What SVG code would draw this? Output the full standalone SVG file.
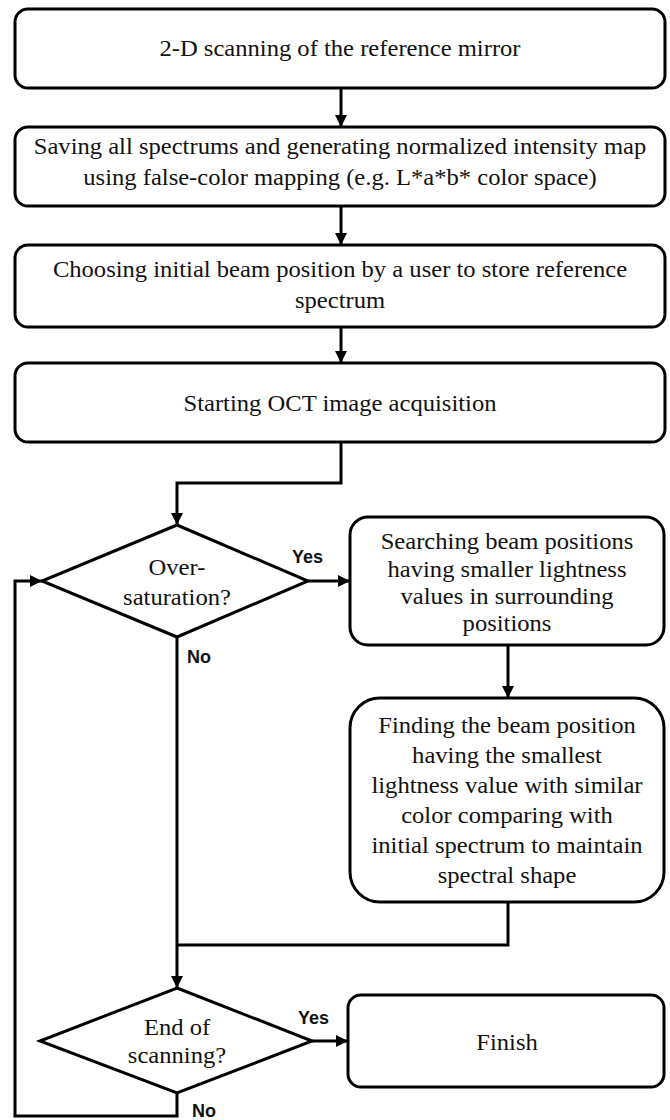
<svg xmlns="http://www.w3.org/2000/svg" width="670" height="1120" viewBox="0 0 670 1120">
<defs>
<marker id="ah" viewBox="0 0 12 12" refX="12" refY="6" markerWidth="12" markerHeight="12" orient="auto" markerUnits="userSpaceOnUse">
<path d="M0,0 L12,6 L0,12 z" fill="#000"/>
</marker>
<style>
.box{fill:#fff;stroke:#000;stroke-width:3}
.t{font-size:23px;fill:#111;text-anchor:middle}
.lbl{font-size:18px;font-weight:bold;fill:#111}
.c{fill:none;stroke:#000;stroke-width:3}
</style>
</defs>
<rect width="670" height="1120" fill="#fff"/>
<g id="connectors" font-family="Liberation Sans, Arial, sans-serif">
<path class="c" d="M341,88 V127" marker-end="url(#ah)"/>
<path class="c" d="M341,206 V245" marker-end="url(#ah)"/>
<path class="c" d="M341,327 V363" marker-end="url(#ah)"/>
<path class="c" d="M341,442 V483 H177 V525" marker-end="url(#ah)"/>
<path class="c" d="M308,581 H350" marker-end="url(#ah)"/>
<path class="c" d="M508,645 V698" marker-end="url(#ah)"/>
<path class="c" d="M508,902 V945 H177"/>
<path class="c" d="M177,637 V988" marker-end="url(#ah)"/>
<path class="c" d="M312,1041 H348" marker-end="url(#ah)"/>
<path class="c" d="M177,1093 V1116 H15 V581 H42" marker-end="url(#ah)"/>
<text class="lbl" x="292" y="563">Yes</text>
<text class="lbl" x="187" y="663">No</text>
<text class="lbl" x="298" y="1024">Yes</text>
<text class="lbl" x="192" y="1117">No</text>
</g>
<g font-family="Liberation Serif, Times New Roman, serif">
<g id="n1">
<rect class="box" x="15" y="9" width="650" height="79" rx="13"/>
<g transform="translate(340 0) scale(1.07 1)">
<text class="t" x="0" y="56">2-D scanning of the reference mirror</text>
</g>
</g>
<g id="n2">
<rect class="box" x="15" y="127" width="650" height="79" rx="13"/>
<g transform="translate(340 0) scale(1.07 1)">
<text class="t" x="0" y="154">Saving all spectrums and generating normalized intensity map</text>
<text class="t" x="0" y="185">using false-color mapping (e.g. L*a*b* color space)</text>
</g>
</g>
<g id="n3">
<rect class="box" x="15" y="245" width="650" height="82" rx="13"/>
<g transform="translate(340 0) scale(1.07 1)">
<text class="t" x="0" y="277">Choosing initial beam position by a user to store reference</text>
<text class="t" x="0" y="308">spectrum</text>
</g>
</g>
<g id="n4">
<rect class="box" x="15" y="363" width="650" height="79" rx="13"/>
<g transform="translate(340 0) scale(1.07 1)">
<text class="t" x="0" y="411">Starting OCT image acquisition</text>
</g>
</g>
<g id="d1">
<polygon class="box" points="177,525 308,581 177,637 42,581"/>
<g transform="translate(177 0) scale(1.07 1)">
<text class="t" x="0" y="575">Over-</text>
<text class="t" x="0" y="605">saturation?</text>
</g>
</g>
<g id="n5">
<rect class="box" x="350" y="517" width="314" height="128" rx="18"/>
<g transform="translate(507 0) scale(1.07 1)">
<text class="t" x="0" y="549">Searching beam positions</text>
<text class="t" x="0" y="577">having smaller lightness</text>
<text class="t" x="0" y="604">values in surrounding</text>
<text class="t" x="0" y="631">positions</text>
</g>
</g>
<g id="n6">
<rect class="box" x="350" y="698" width="314" height="204" rx="30"/>
<g transform="translate(507 0) scale(1.07 1)">
<text class="t" x="0" y="733">Finding the beam position</text>
<text class="t" x="0" y="763">having the smallest</text>
<text class="t" x="0" y="793">lightness value with similar</text>
<text class="t" x="0" y="823">color comparing with</text>
<text class="t" x="0" y="853">initial spectrum to maintain</text>
<text class="t" x="0" y="883">spectral shape</text>
</g>
</g>
<g id="d2">
<polygon class="box" points="177,988 312,1041 177,1093 40,1041"/>
<g transform="translate(177 0) scale(1.07 1)">
<text class="t" x="0" y="1035">End of</text>
<text class="t" x="0" y="1063">scanning?</text>
</g>
</g>
<g id="n7">
<rect class="box" x="348" y="995" width="316" height="92" rx="13"/>
<g transform="translate(507 0) scale(1.07 1)">
<text class="t" x="0" y="1050">Finish</text>
</g>
</g>
</g>
</svg>
